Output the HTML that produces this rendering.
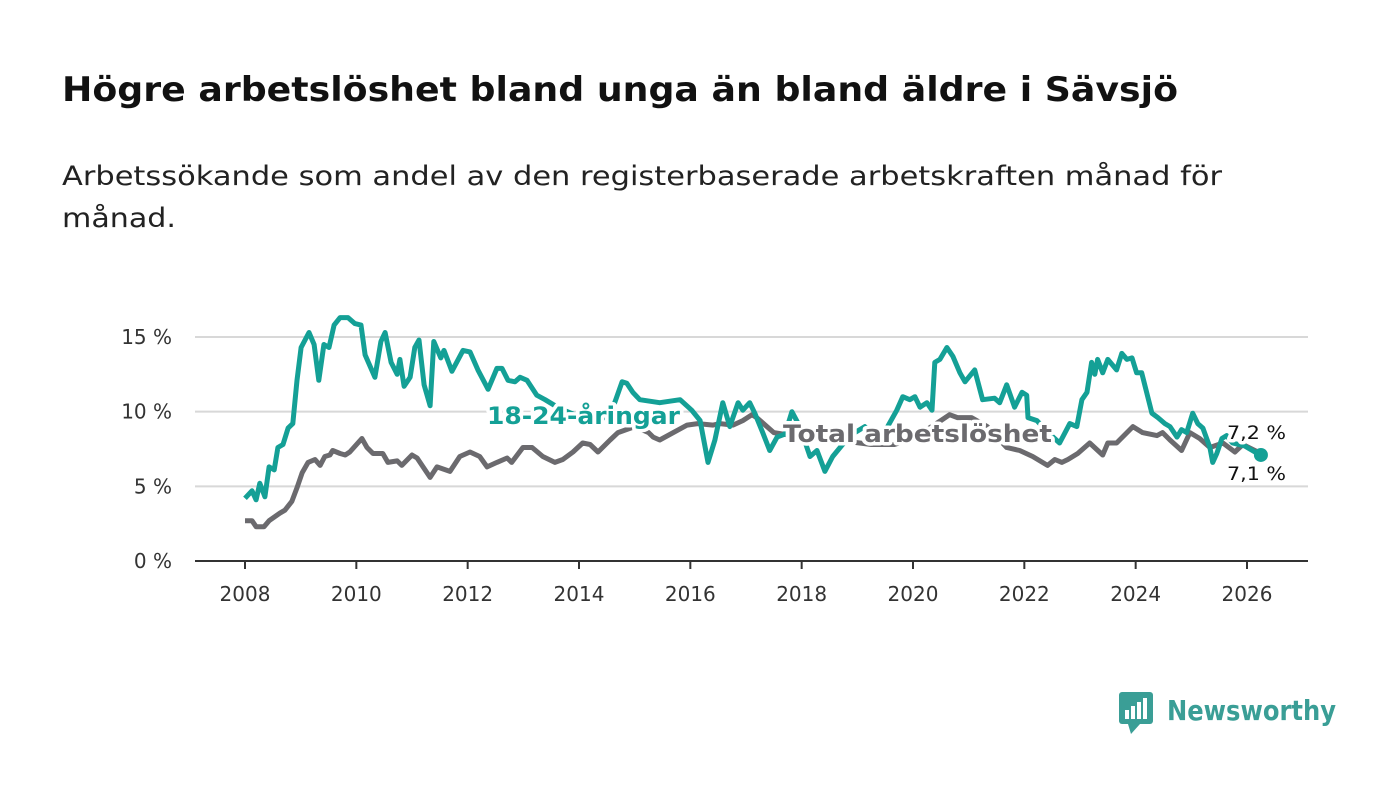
<!DOCTYPE html>
<html><head><meta charset="utf-8"><style>
body{margin:0;background:#fff;width:1400px;height:794px;overflow:hidden;font-family:"DejaVu Sans","Liberation Sans",sans-serif;}
svg text{font-family:"DejaVu Sans","Liberation Sans",sans-serif;}
</style></head><body>
<svg width="1400" height="794" style="position:absolute;left:0;top:0">
<text x="62" y="101" font-size="34" font-weight="bold" fill="#111" textLength="1116" lengthAdjust="spacingAndGlyphs">Högre arbetslöshet bland unga än bland äldre i Sävsjö</text>
<text x="62" y="185" font-size="27" fill="#222" textLength="1160" lengthAdjust="spacingAndGlyphs">Arbetssökande som andel av den registerbaserade arbetskraften månad för</text>
<text x="62" y="227" font-size="27" fill="#222" textLength="114" lengthAdjust="spacingAndGlyphs">månad.</text>
<g id="grid"></g><g id="series"></g><g id="labels"></g>
<g>
<rect x="1119" y="692" width="34" height="32" rx="3" fill="#3a9e96"/>
<polygon points="1128,724 1140,724 1131,734" fill="#3a9e96"/>
<rect x="1125" y="710" width="4" height="9" fill="#fff"/><rect x="1131" y="706" width="4" height="13" fill="#fff"/><rect x="1137" y="702" width="4" height="17" fill="#fff"/><rect x="1143" y="698" width="4" height="21" fill="#fff"/>
<text x="1167" y="720" font-size="28" font-weight="bold" fill="#3a9e96" textLength="169" lengthAdjust="spacingAndGlyphs">Newsworthy</text>
</g>
</svg>
<script>
const months=[0,1.5,2.4,3.2,4.3,5.2,6.3,7.1,8.2,9.3,10.3,11.2,12.1,13.8,14.9,15.9,17,18.1,19.2,20.5,22.2,23.7,25,25.9,28,29.3,30.2,31.5,32.8,33.4,34.3,35.6,36.6,37.5,38.6,39.9,40.7,42.2,42.9,44.6,47,48.5,50.2,52.4,54.3,55.4,56.7,58.2,59.3,60.8,62.9,64.7,67.9,71.1,74.4,77.6,79.7,81.3,82.3,83.6,85.1,89.4,93.8,96.3,98.1,99.8,101.3,103,104.5,106.3,107.3,108.8,109.9,111.6,113.1,114.7,116.4,117.9,119.6,121.8,123.3,125,126.7,130.4,133.6,136.9,140.5,141.8,143.3,144.4,145.5,147,148.1,148.7,149.8,151.3,152.6,154.1,155.2,157.3,159,161.6,162.7,164.2,165.9,167.5,168.5,168.8,170.7,173.5,175.6,177.8,179.3,180.4,181.5,182.5,183.2,183.8,184.9,186,187.9,189,190.1,191.2,192.2,193.3,195.5,196.8,198.3,199.4,200.9,201.9,203,204.3,205.4,206.5,208,208.6,209.5,210.6,211.6,212.9,215.5,217.7,219];
const youth=[4.2,4.7,4.1,5.2,4.3,6.3,6.1,7.6,7.8,8.9,9.2,12.1,14.3,15.3,14.5,12.1,14.5,14.3,15.8,16.3,16.3,15.9,15.8,13.8,12.3,14.7,15.3,13.3,12.5,13.5,11.7,12.3,14.3,14.8,11.8,10.4,14.7,13.6,14.1,12.7,14.1,14.0,12.8,11.5,12.9,12.9,12.1,12.0,12.3,12.1,11.1,10.8,10.2,9.8,9.4,9.6,10.6,12.0,11.9,11.3,10.8,10.6,10.8,10.1,9.4,6.6,8.1,10.6,9.0,10.6,10.1,10.6,9.9,8.6,7.4,8.3,8.5,10.0,9.0,7.0,7.4,6.0,7.0,8.4,9.0,8.1,10.1,11.0,10.8,11.0,10.3,10.6,10.1,13.3,13.5,14.3,13.7,12.6,12.0,12.8,10.8,10.9,10.6,11.8,10.3,11.3,11.1,9.6,9.4,8.5,7.9,9.2,9.0,10.8,11.3,13.3,12.5,13.5,12.6,13.5,12.8,13.9,13.5,13.6,12.6,12.6,9.9,9.6,9.2,9.0,8.3,8.8,8.6,9.9,9.2,8.9,7.6,6.6,7.2,8.2,8.4,7.9,7.7,7.3,7.1];
const monthsT=[0,1.5,2.4,4.1,5.2,7.5,8.6,10.1,11.2,12.3,13.6,15.1,16.2,17.2,18.3,18.9,20.5,21.6,22.6,25.2,26.3,27.6,29.7,30.8,32.8,33.8,36,37.1,39.9,41.4,44.2,46.3,48.5,50.6,52.2,54.3,56.5,57.5,59.9,61.9,64.2,66.8,68.5,70.7,72.8,74.4,76.1,78.7,80.4,84,87,88,89.4,95.3,97.6,100.9,102.4,105.2,107.3,109.3,110.3,114,118,124,130,135,140,144,150,151.9,153.6,156.6,160,164.2,167,169.8,173,174.6,176.1,177.4,179.5,182.1,184.9,186,187.9,191.4,193.5,196.6,197.8,199.4,201.9,203.7,205.8,208,210.8,213.4,215.1,219];
const total=[2.7,2.7,2.3,2.3,2.7,3.2,3.4,4.0,4.9,5.9,6.6,6.8,6.4,7.0,7.1,7.4,7.2,7.1,7.3,8.2,7.6,7.2,7.2,6.6,6.7,6.4,7.1,6.9,5.6,6.3,6.0,7.0,7.3,7.0,6.3,6.6,6.9,6.6,7.6,7.6,7.0,6.6,6.8,7.3,7.9,7.8,7.3,8.1,8.6,9.0,8.6,8.3,8.1,9.1,9.2,9.1,9.2,9.1,9.4,9.8,9.6,8.6,8.4,8.2,8.0,7.8,7.8,8.2,9.4,9.8,9.6,9.6,9.0,7.6,7.4,7.0,6.4,6.8,6.6,6.8,7.2,7.9,7.1,7.9,7.9,9.0,8.6,8.4,8.6,8.1,7.4,8.6,8.2,7.6,7.9,7.3,7.8,7.2];
const yTicks=[0,5,10,15];
const xTicks=[2008,2010,2012,2014,2016,2018,2020,2022,2024,2026];
const NS="http://www.w3.org/2000/svg";
const x=m=>245+m*(1247-245)/216;
const y=v=>561-v*(561-337)/15;
function mk(t,a,p){const e=document.createElementNS(NS,t);for(const k in a)e.setAttribute(k,a[k]);p.appendChild(e);return e;}
const grid=document.getElementById('grid');
yTicks.forEach(v=>{
 const l=mk('line',{x1:195,x2:1308,y1:y(v),y2:y(v),stroke:v===0?'#333':'#d8d8d8','stroke-width':2},grid);
 
 
 const t=mk('text',{x:172,y:y(v)+7,'font-size':20,fill:'#333','text-anchor':'end'},grid);t.textContent=v+' %';
 
 
});
xTicks.forEach(yr=>{
 const xx=x((yr-2008)*12);
 const l=mk('line',{x1:xx,x2:xx,y1:561,y2:569,stroke:'#333','stroke-width':2},grid);
 
 
 const t=mk('text',{x:xx,y:601,'font-size':20,fill:'#333','text-anchor':'middle'},grid);t.textContent=yr;
 
 
});
const s=document.getElementById('series');
function path(ms,vs){return ms.map((m,i)=>(i?'L':'M')+x(m).toFixed(1)+','+y(vs[i]).toFixed(1)).join('');}
const pt=mk('path',{d:path(monthsT,total),fill:'none',stroke:'#6b6a6e','stroke-width':5,'stroke-linejoin':'round'},s);


const py=mk('path',{d:path(months,youth),fill:'none',stroke:'#14a096','stroke-width':5,'stroke-linejoin':'round'},s);


const dot=mk('circle',{cx:x(months[months.length-1]),cy:y(youth[youth.length-1]),r:7,fill:'#14a096'},s);


const L=document.getElementById('labels');
function lab(txt,xx,yy,col,name,size,bold,len){
 const t=mk('text',{x:xx,y:yy,'font-size':size,'font-weight':bold?'bold':'normal',fill:col,stroke:'#fff','stroke-width':7,'paint-order':'stroke','stroke-linejoin':'round',textLength:len,lengthAdjust:'spacingAndGlyphs'},L);t.textContent=txt;
 
 
}
lab('18-24-åringar',487,424,'#14a096','youth-series-label',24,true,193);
lab('Total arbetslöshet',783,442,'#6b6a6e','total-series-label',24,true,269);
lab('7,2 %',1227,439,'#111','total-end-value',19,false,59);
lab('7,1 %',1227,480,'#111','youth-end-value',19,false,59);
</script>
</body></html>
